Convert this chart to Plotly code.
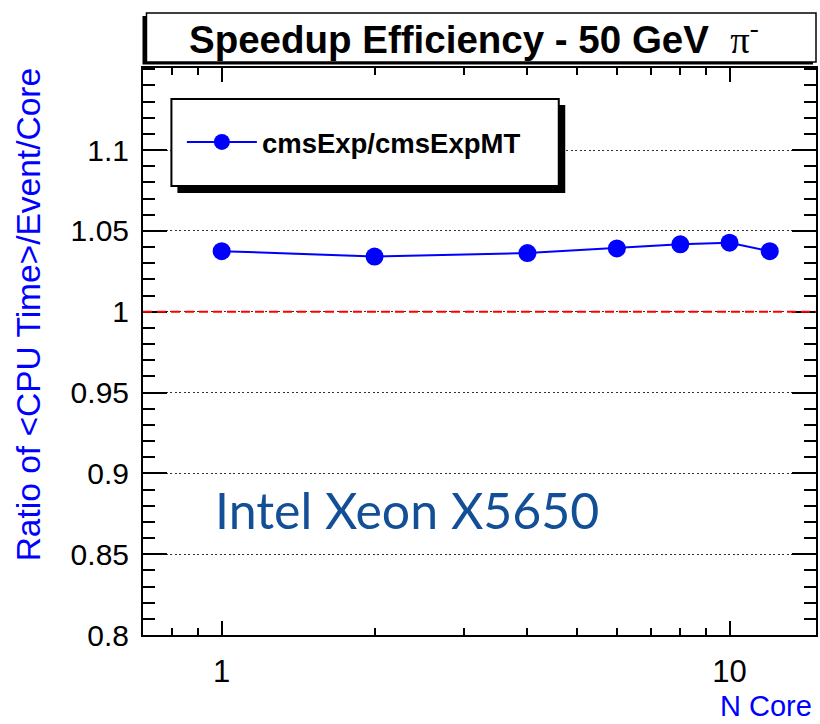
import math
import plotly.graph_objects as go

# ---- data ----
n_core = [1, 2, 4, 6, 8, 10, 12]
ratio = [1.0375, 1.0341, 1.0363, 1.0392, 1.0417, 1.0427, 1.0375]
series_name = "cmsExp/cmsExpMT"
reference_value = 1.0
x_major = [1, 10]
x_major_text = ["1", "10"]
x_minor = [0.8, 0.9, 2, 3, 4, 5, 6, 7, 8, 9]
y_ticks = [0.8, 0.85, 0.9, 0.95, 1.0, 1.05, 1.1]
y_tick_text = ["0.8", "0.85", "0.9", "0.95", "1", "1.05", "1.1"]
title_text = "Speedup Efficiency - 50 GeV"
x_title = "N Core"
y_title = "Ratio of &lt;CPU Time&gt;/Event/Core"
note_text = "Intel Xeon X5650"

# ---- geometry ----
W, H = 820, 724
L, R, T, B = 143, 2, 68, 89
PW = W - L - R
PH = H - T - B


def px(xp):
    return (xp - L) / PW


def py(yp):
    return (H - B - yp) / PH


FONT = "Liberation Sans, Arial, Helvetica, sans-serif"
BLUE = "#0000ff"

fig = go.Figure()
fig.add_trace(go.Scatter(
    x=n_core, y=ratio, mode="lines+markers", name=series_name,
    line=dict(color=BLUE, width=2),
    marker=dict(color=BLUE, size=18, symbol="circle"),
))

shapes = [
    # title box shadow and box
    dict(type="rect", xref="paper", yref="paper", x0=px(142.5), x1=px(815), y0=py(64.5), y1=py(16),
         fillcolor="black", line=dict(width=0), layer="above"),
    dict(type="rect", xref="paper", yref="paper", x0=px(146.5), x1=px(818), y0=py(62), y1=py(13),
         fillcolor="white", line=dict(color="black", width=1.5), layer="above"),
    # legend box shadow and box
    dict(type="rect", xref="paper", yref="paper", x0=px(177.5), x1=px(566.5), y0=py(193), y1=py(105),
         fillcolor="black", line=dict(width=0), layer="above"),
    dict(type="rect", xref="paper", yref="paper", x0=px(171.5), x1=px(560), y0=py(186), y1=py(99),
         fillcolor="white", line=dict(color="black", width=2), layer="above"),
    # reference line
    dict(type="line", xref="paper", yref="y", x0=0, x1=1, y0=reference_value, y1=reference_value,
         line=dict(color="#ff0000", width=2, dash="9px,5px"), layer="above"),
]

annotations = [
    dict(text="<b>" + title_text + "</b>  <span style='font-family:Liberation Serif, Times New Roman, serif'>π<sup>-</sup></span>",
         xref="paper", yref="paper", x=px(475), y=py(37), xanchor="center", yanchor="middle",
         showarrow=False, font=dict(family=FONT, size=38.5, color="black")),
    dict(text=y_title, xref="paper", yref="paper", x=px(28), y=py(315), xanchor="center", yanchor="middle",
         textangle=-90, showarrow=False, font=dict(family=FONT, size=33.5, color=BLUE)),
    dict(text=x_title, xref="paper", yref="paper", x=px(816), y=py(706), xanchor="right", yanchor="middle",
         showarrow=False, font=dict(family=FONT, size=29, color=BLUE)),
    dict(text=note_text, xref="paper", yref="paper", x=px(213), y=py(510), xanchor="left", yanchor="middle",
         showarrow=False, font=dict(family="Lato, Open Sans, sans-serif", size=50, color="#124f96")),
]

fig.update_layout(
    width=W, height=H,
    margin=dict(l=L, r=R, t=T, b=B, pad=0),
    paper_bgcolor="white", plot_bgcolor="white",
    font=dict(family=FONT, color="black"),
    showlegend=True,
    legend=dict(x=px(182), y=py(142), xanchor="left", yanchor="middle",
                bgcolor="rgba(0,0,0,0)", borderwidth=0, itemwidth=70,
                font=dict(family=FONT, size=27.5, color="black", weight="bold")),
    shapes=shapes,
    annotations=annotations,
    xaxis=dict(
        type="log", range=[math.log10(0.7), math.log10(14.8)],
        tickmode="array", tickvals=x_major, ticktext=x_major_text,
        ticks="inside", ticklen=14, tickwidth=1.5, tickcolor="black",
        minor=dict(tickmode="array", tickvals=x_minor, ticks="inside", ticklen=7,
                   tickwidth=1.5, tickcolor="black", showgrid=False),
        showline=True, linecolor="black", linewidth=2, mirror="ticks",
        showgrid=False, zeroline=False,
        tickfont=dict(family=FONT, size=31, color="black"),
        ticklabelstandoff=8,
    ),
    yaxis=dict(
        range=[0.8, 1.1508],
        tickmode="array", tickvals=y_ticks, ticktext=y_tick_text,
        ticks="inside", ticklen=24, tickwidth=1.5, tickcolor="black",
        minor=dict(dtick=0.01, tick0=0.8, ticks="inside", ticklen=12,
                   tickwidth=1.5, tickcolor="black", showgrid=False),
        showline=True, linecolor="black", linewidth=2, mirror="ticks",
        showgrid=True, gridcolor="#333333", gridwidth=1.2, griddash="2px,2.5px",
        zeroline=False,
        tickfont=dict(family=FONT, size=30, color="black"),
        ticklabelstandoff=6,
    ),
)

fig.write_html("out.html")
